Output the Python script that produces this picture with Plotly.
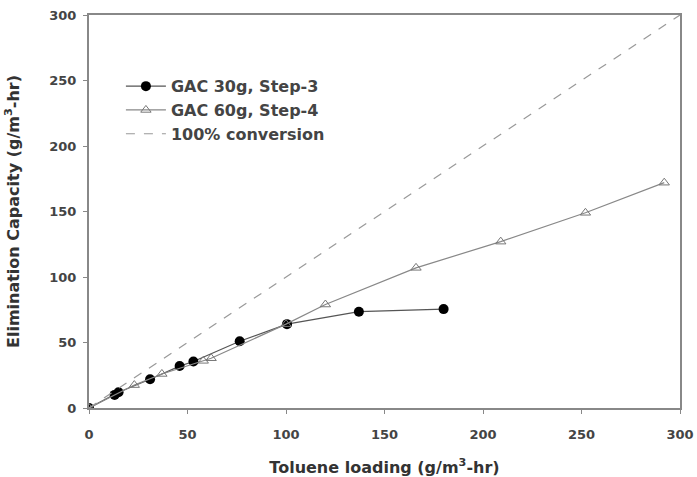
import plotly.graph_objects as go

x_gac30 = [0, 13, 15, 31, 46, 53, 76.5, 100.5, 137, 180]
y_gac30 = [0, 10, 12, 22, 32, 35.5, 51, 64, 73.5, 75.5]

x_gac60 = [0, 23, 37, 58, 62, 100, 120, 166, 209, 252, 292]
y_gac60 = [0, 17.5, 26, 36, 38, 64, 79, 107, 127, 149, 172]

x_conv = [0, 300]
y_conv = [0, 300]

FONT = "DejaVu Sans"

fig = go.Figure()
fig.add_trace(go.Scatter(x=x_gac30, y=y_gac30, mode="lines+markers", name="GAC 30g, Step-3",
                         line=dict(color="#555555", width=1.2),
                         marker=dict(symbol="circle", size=10, color="black")))
fig.add_trace(go.Scatter(x=x_gac60, y=y_gac60, mode="lines+markers", name="GAC 60g, Step-4",
                         line=dict(color="#888888", width=1.2),
                         marker=dict(symbol="triangle-up-open", size=9, color="#777777",
                                     line=dict(width=1))))
fig.add_trace(go.Scatter(x=x_conv, y=y_conv, mode="lines", name="100% conversion",
                         line=dict(color="#999999", width=1.2, dash="dash")))

axis_common = dict(showgrid=False, zeroline=False, showline=True, linecolor="#888888", linewidth=2,
                   ticks="outside", ticklen=4, tickcolor="#888888", mirror=True, automargin=False,
                   tickfont=dict(family=FONT, size=13, color="#444444", weight="bold"))
fig.update_xaxes(range=[0, 300], dtick=50, **axis_common, ticklabelstandoff=9,
                 title=dict(text="Toluene loading (g/m<sup>3</sup>-hr)",
                            font=dict(family=FONT, size=16, color="#333333", weight="bold"),
                            standoff=28))
fig.update_yaxes(range=[0, 300], dtick=50, **axis_common, ticklabelstandoff=4,
                 title=dict(text="Elimination Capacity (g/m<sup>3</sup>-hr)",
                            font=dict(family=FONT, size=16, color="#333333", weight="bold"),
                            standoff=26))

fig.update_layout(width=697, height=477, margin=dict(l=89, r=17, t=15, b=69),
                  plot_bgcolor="white", paper_bgcolor="white",
                  legend=dict(x=0.054, y=0.862, xanchor="left", yanchor="top",
                              bgcolor="rgba(0,0,0,0)",
                              font=dict(family=FONT, size=16, color="#444444", weight="bold"),
                              tracegroupgap=0, itemwidth=40))
fig.write_html("out.html")
